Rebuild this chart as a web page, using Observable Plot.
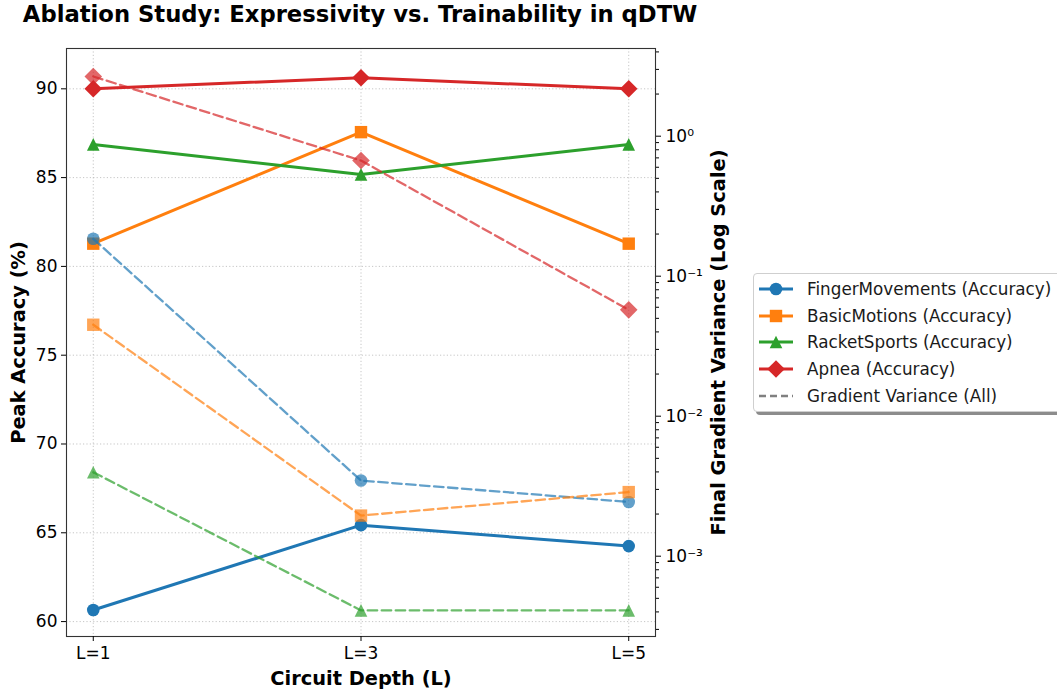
<!DOCTYPE html>
<html><head><meta charset="utf-8">
<script src="https://cdn.jsdelivr.net/npm/d3@7"></script>
<script src="https://cdn.jsdelivr.net/npm/@observablehq/plot@0.6"></script>
<style>
body{margin:0;background:#fff;font-family:"DejaVu Sans",sans-serif;}
#wrap{position:relative;width:1057px;height:694px;overflow:hidden;background:#fff;}
#title{height:30px;position:relative;}
#title span{position:absolute;left:0;width:720px;top:1px;text-align:center;font-weight:bold;font-size:22.7px;color:#000;white-space:nowrap;}
#legend{position:absolute;left:753px;top:273px;width:330px;height:139px;border:1px solid #cfcfcf;border-radius:4px;background:#fff;box-shadow:3px 3px 0 rgba(0,0,0,0.45);box-sizing:border-box;}
.row{position:absolute;left:0;height:26px;display:flex;align-items:center;font-size:16.8px;color:#1a1a1a;white-space:nowrap;}
.row svg{margin-left:3px;margin-right:12px;}
</style></head>
<body>
<div id="wrap">
<div id="title"><span>Ablation Study: Expressivity vs. Trainability in qDTW</span></div>
<div id="chart"></div>
<div id="legend"></div>
</div>
<script>
// ---- data ----
const depths = [1, 3, 5];
const names = ["FingerMovements", "BasicMotions", "RacketSports", "Apnea"];
const colors = ["#1f77b4", "#ff7f0e", "#2ca02c", "#d62728"];
const accFinger = [60.65, 65.43, 64.25];
const accBasic = [81.28, 87.56, 81.28];
const accRacket = [86.87, 85.18, 86.87];
const accApnea = [90.0, 90.62, 90.0];
const gradFinger = [0.185, 0.00347, 0.00244];
const gradBasic = [0.045, 0.00195, 0.00287];
const gradRacket = [0.00398, 0.00041, 0.00041];
const gradApnea = [2.67, 0.67, 0.0575];
const accTicks = [60, 65, 70, 75, 80, 85, 90];
const gradMajor = [1e-3, 1e-2, 1e-1, 1e0];
const gradLabels = ["10\u207B\u00B3", "10\u207B\u00B2", "10\u207B\u00B9", "10\u2070"];
const depthLabels = ["L=1", "L=3", "L=5"];

const accSeries = [accFinger, accBasic, accRacket, accApnea];
const gradSeries = [gradFinger, gradBasic, gradRacket, gradApnea];

// ---- scales ----
const yBot = 59.16, yTop = 92.27;
const logBot = -3.5736, logTop = 0.6264;
const toLeft = v => yBot + (Math.log10(v) - logBot) / (logTop - logBot) * (yTop - yBot);

// ---- symbols (half-size = r) ----
const symSquare = {draw(ctx, size){const h=Math.sqrt(size/Math.PI);ctx.moveTo(-h,-h);ctx.lineTo(h,-h);ctx.lineTo(h,h);ctx.lineTo(-h,h);ctx.closePath();}};
const symTri = {draw(ctx, size){const h=Math.sqrt(size/Math.PI);ctx.moveTo(0,-h);ctx.lineTo(h,h);ctx.lineTo(-h,h);ctx.closePath();}};
const symDia = {draw(ctx, size){const h=Math.sqrt(size/Math.PI);ctx.moveTo(0,-h);ctx.lineTo(h,0);ctx.lineTo(0,h);ctx.lineTo(-h,0);ctx.closePath();}};
const symbols = ["circle", symSquare, symTri, symDia];
const sizes = [6.3, 6.2, 6.3, 8.8];

const rows = names.map((n, i) => depths.map((d, j) => ({name: n, depth: d, acc: accSeries[i][j], grad: gradSeries[i][j], gy: toLeft(gradSeries[i][j])})));

const minor = [];
for (let e = -4; e <= 0; e++) for (let k = 2; k <= 9; k++) { const v = k * Math.pow(10, e); const l = Math.log10(v); if (l > logBot && l < logTop) minor.push(toLeft(v)); }
const majorPos = gradMajor.map(toLeft);
const majorMap = new Map(majorPos.map((p, i) => [p, gradLabels[i]]));

const marks = [
  Plot.gridY(accTicks, {stroke: "#b0b0b0", strokeOpacity: 0.8, strokeDasharray: "1.2,2.2", strokeWidth: 0.9}),
  Plot.gridX(depths, {stroke: "#b0b0b0", strokeOpacity: 0.8, strokeDasharray: "1.2,2.2", strokeWidth: 0.9})
];
rows.forEach((r, i) => {
  marks.push(Plot.line(r, {x: "depth", y: "acc", stroke: colors[i], strokeWidth: 3}));
  marks.push(Plot.dot(r, {x: "depth", y: "acc", fill: colors[i], stroke: "none", symbol: symbols[i], r: sizes[i]}));
});
rows.forEach((r, i) => {
  marks.push(Plot.line(r, {x: "depth", y: "gy", stroke: colors[i], strokeWidth: 2.3, strokeOpacity: 0.7, strokeDasharray: "9.5,4.5"}));
  marks.push(Plot.dot(r, {x: "depth", y: "gy", fill: colors[i], fillOpacity: 0.7, stroke: "none", symbol: symbols[i], r: sizes[i]}));
});
marks.push(
  Plot.frame({stroke: "#333", strokeWidth: 1.1}),
  Plot.axisY(accTicks, {anchor: "left", tickSize: 5, tickPadding: 4, label: null, fontSize: 17, tickFormat: d => String(d)}),
  Plot.axisY(majorPos, {anchor: "right", tickSize: 5, tickPadding: 5, label: null, fontSize: 17, tickFormat: v => majorMap.get(v)}),
  Plot.axisY(minor, {anchor: "right", tickSize: 3, label: null, tickFormat: () => ""}),
  Plot.axisX(depths, {anchor: "bottom", tickSize: 5, tickPadding: 5, label: null, fontSize: 17, tickFormat: d => depthLabels[depths.indexOf(d)]}),
  Plot.text(["Peak Accuracy (%)"], {frameAnchor: "left", rotate: -90, dx: -48, textAnchor: "middle", fontWeight: "bold", fontSize: 19.4, fill: "#000"}),
  Plot.text(["Final Gradient Variance (Log Scale)"], {frameAnchor: "right", rotate: -90, dx: 63, textAnchor: "middle", fontWeight: "bold", fontSize: 19.4, fill: "#000"}),
  Plot.text(["Circuit Depth (L)"], {frameAnchor: "bottom", dy: 48, textAnchor: "middle", fontWeight: "bold", fontSize: 19.4, fill: "#000"})
);

const chart = Plot.plot({
  width: 1057, height: 664,
  marginTop: 18, marginBottom: 58, marginLeft: 66, marginRight: 402,
  style: {fontFamily: "DejaVu Sans", fontSize: "17px", color: "#000", background: "#fff", overflow: "visible"},
  x: {domain: [0.8, 5.2], axis: null},
  y: {domain: [yBot, yTop], axis: null},
  marks
});
document.getElementById("chart").appendChild(chart);

// ---- legend ----
const legendLabels = names.map(n => n + " (Accuracy)").concat(["Gradient Variance (All)"]);
const leg = document.getElementById("legend");
const shapes = [
  c => `<circle cx="19" cy="10" r="6.3" fill="${c}"/>`,
  c => `<rect x="12.8" y="3.8" width="12.4" height="12.4" fill="${c}"/>`,
  c => `<path d="M19,3.7L25.3,16.3L12.7,16.3Z" fill="${c}"/>`,
  c => `<path d="M19,1.2L27.8,10L19,18.8L10.2,10Z" fill="${c}"/>`
];
legendLabels.forEach((t, i) => {
  const d = document.createElement("div");
  d.className = "row";
  d.style.top = (2 + i * 26.7) + "px";
  let svg;
  if (i < 4) svg = `<svg width="38" height="20"><line x1="2" y1="10" x2="36" y2="10" stroke="${colors[i]}" stroke-width="3"/>${shapes[i](colors[i])}</svg>`;
  else svg = `<svg width="38" height="20"><line x1="2" y1="10" x2="36" y2="10" stroke="#808080" stroke-width="2.3" stroke-dasharray="7,4"/></svg>`;
  d.innerHTML = svg + `<span>${t}</span>`;
  leg.appendChild(d);
});
</script>
</body></html>
